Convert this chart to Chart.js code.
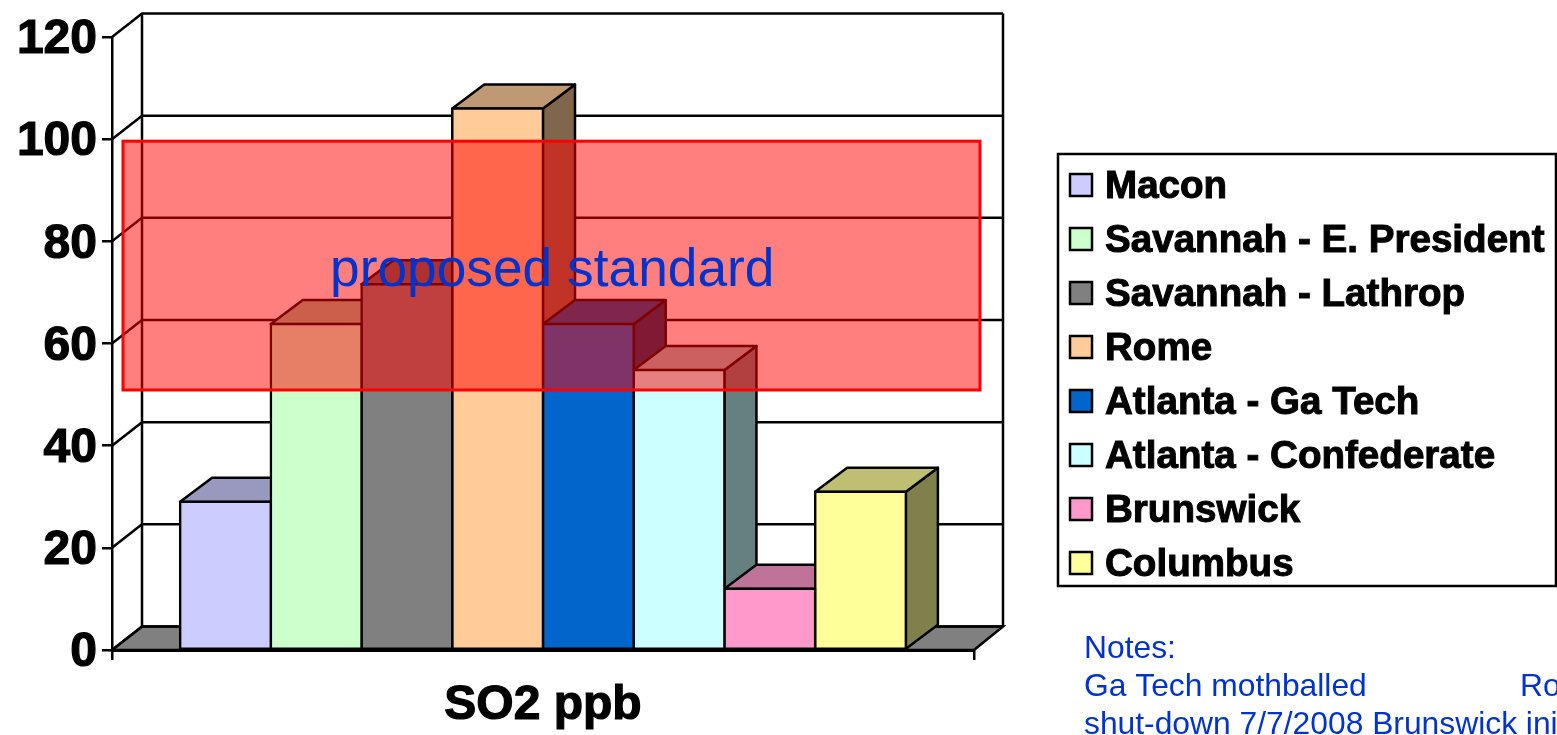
<!DOCTYPE html>
<html>
<head>
<meta charset="utf-8">
<title>SO2 ppb</title>
<style>
  html, body { margin: 0; padding: 0; background: #fff; overflow: hidden; }
  canvas { display: block; }
</style>
<script src="https://cdn.jsdelivr.net/npm/chart.js@4"></script>
</head>
<body>
<canvas id="chartSo2" width="1557" height="735"></canvas>
<script>
const categories = ["SO2 ppb"];
const stations = [
  "Macon",
  "Savannah - E. President",
  "Savannah - Lathrop",
  "Rome",
  "Atlanta - Ga Tech",
  "Atlanta - Confederate",
  "Brunswick",
  "Columbus",
];
const so2Values = [29, 63.8, 71.6, 106, 63.8, 54.8, 12, 31];
const stationColors = ["#CCCCFF", "#CCFFCC", "#808080", "#FFCC99", "#0066CC", "#CCFFFF", "#FF99CC", "#FFFF99"];
const standardBand = [50.9, 99.6];
const standardLabel = "proposed standard";
const notes = ["Notes:", "Ga Tech mothballed", "shut-down 7/7/2008 Brunswick ini"];
const notesClipped = "Ro";

const FONT = '"Liberation Sans", Arial, sans-serif';
const BLUE = "#0033CC";
const LINE = 2.5;

// shade a hex colour, used for the top and side faces of the bars
function shade(hex, f) {
  const n = parseInt(hex.slice(1), 16);
  const r = Math.round(((n >> 16) & 255) * f);
  const g = Math.round(((n >> 8) & 255) * f);
  const b = Math.round((n & 255) * f);
  return `rgb(${r},${g},${b})`;
}

function poly(ctx, pts, fill) {
  ctx.beginPath();
  pts.forEach((p, i) => (i ? ctx.lineTo(p[0], p[1]) : ctx.moveTo(p[0], p[1])));
  ctx.closePath();
  if (fill) {
    ctx.fillStyle = fill;
    ctx.fill();
  }
  ctx.stroke();
}

// back wall, side wall and floor
const wallPlugin = {
  id: "walls",
  beforeDraw(chart) {
    const { ctx, chartArea: a, scales } = chart;
    const dx = 30;
    const dy = 23.5;
    ctx.save();
    ctx.strokeStyle = "#000";
    ctx.lineWidth = LINE;
    poly(ctx, [[a.left, a.bottom], [a.left + dx, a.bottom - dy], [a.right + dx - 1, a.bottom - dy], [a.right, a.bottom]], "#808080");
    scales.y.ticks.forEach((t) => {
      const y = scales.y.getPixelForValue(t.value);
      ctx.beginPath();
      ctx.moveTo(a.left, y);
      ctx.lineTo(a.left + dx, y - dy);
      ctx.lineTo(a.right + dx - 1, y - dy);
      ctx.stroke();
    });
    ctx.beginPath();
    ctx.moveTo(a.left + dx, a.bottom - dy);
    ctx.lineTo(a.left + dx, a.top - dy);
    ctx.moveTo(a.right + dx - 1, a.bottom - dy);
    ctx.lineTo(a.right + dx - 1, a.top - dy);
    ctx.stroke();
    ctx.restore();
  },
};

// top and side faces, left to right so nearer bars cover the earlier ones
const depthPlugin = {
  id: "barDepth",
  beforeDatasetsDraw(chart) {
    const { ctx } = chart;
    const dx = 32;
    const dy = 24;
    ctx.save();
    ctx.strokeStyle = "#000";
    ctx.lineWidth = LINE;
    ctx.lineJoin = "round";
    chart.data.datasets.forEach((ds, i) => {
      const bar = chart.getDatasetMeta(i).data[0];
      const l = bar.x - bar.width / 2;
      const r = bar.x + bar.width / 2;
      poly(ctx, [[r, bar.y], [r + dx, bar.y - dy], [r + dx, bar.base - dy], [r, bar.base]], shade(ds.backgroundColor, 0.5));
      poly(ctx, [[l, bar.y], [l + dx, bar.y - dy], [r + dx, bar.y - dy], [r, bar.y]], shade(ds.backgroundColor, 0.75));
    });
    ctx.restore();
  },
};

// red band with its label, on top of the bars
const bandPlugin = {
  id: "standardBand",
  afterDatasetsDraw(chart) {
    const { ctx, scales } = chart;
    const top = scales.y.getPixelForValue(standardBand[1]);
    const bottom = scales.y.getPixelForValue(standardBand[0]);
    ctx.save();
    ctx.fillStyle = "rgba(255,0,0,0.5)";
    ctx.strokeStyle = "#FF0000";
    ctx.lineWidth = 3;
    ctx.fillRect(123, top, 857, bottom - top);
    ctx.strokeRect(123, top, 857, bottom - top);
    ctx.fillStyle = BLUE;
    ctx.font = `53.3px ${FONT}`;
    ctx.textAlign = "left";
    ctx.textBaseline = "alphabetic";
    ctx.fillText(standardLabel, 330, 286);
    ctx.restore();
  },
};

const legendPlugin = {
  id: "sideLegend",
  afterDraw(chart) {
    const { ctx } = chart;
    ctx.save();
    ctx.fillStyle = "#fff";
    ctx.strokeStyle = "#000";
    ctx.lineWidth = LINE;
    ctx.fillRect(1058, 154, 498, 432);
    ctx.strokeRect(1058, 154, 498, 432);
    ctx.textBaseline = "alphabetic";
    chart.data.datasets.forEach((ds, i) => {
      const y = 185 + i * 54;
      ctx.fillStyle = ds.backgroundColor;
      ctx.lineWidth = LINE;
      ctx.fillRect(1070, y - 11, 22, 22);
      ctx.strokeRect(1070, y - 11, 22, 22);
      ctx.fillStyle = "#000";
      ctx.font = `bold 38.6px ${FONT}`;
      ctx.lineWidth = 1;
      ctx.fillText(ds.label, 1105, y + 13);
      ctx.strokeText(ds.label, 1105, y + 13);
    });

    ctx.fillStyle = BLUE;
    ctx.font = `31.8px ${FONT}`;
    notes.forEach((line, i) => ctx.fillText(line, 1084, 658 + i * 38));
    ctx.fillText(notesClipped, 1520, 696);
    ctx.restore();
  },
};

new Chart(document.getElementById("chartSo2"), {
  type: "bar",
  data: {
    labels: categories,
    datasets: stations.map((name, i) => ({
      label: name,
      data: [so2Values[i]],
      backgroundColor: stationColors[i],
      borderColor: "#000",
      borderWidth: LINE,
      borderSkipped: false,
      inflateAmount: LINE / 2,
    })),
  },
  options: {
    responsive: false,
    animation: false,
    devicePixelRatio: 1,
    categoryPercentage: 0.842,
    barPercentage: 1,
    layout: { padding: { top: 37, right: 583, bottom: 0, left: 0 } },
    plugins: {
      legend: { display: false },
      title: { display: false },
      tooltip: { enabled: false },
    },
    scales: {
      x: {
        afterFit(scale) {
          scale.height = 85;
        },
        border: { color: "#000", width: 3 },
        grid: { offset: true, drawOnChartArea: false, color: "#000", lineWidth: LINE, tickLength: 10 },
        ticks: {
          color: "#000",
          padding: 17,
          textStrokeColor: "#000",
          textStrokeWidth: 1.2,
          font: { family: FONT, size: 48, weight: "bold" },
        },
      },
      y: {
        min: 0,
        max: 120,
        afterFit(scale) {
          scale.width = 112;
        },
        border: { color: "#000", width: LINE },
        grid: { drawOnChartArea: false, color: "#000", lineWidth: LINE, tickLength: 10 },
        ticks: {
          stepSize: 20,
          color: "#000",
          padding: 5,
          labelOffset: 3,
          textStrokeColor: "#000",
          textStrokeWidth: 1.2,
          font: { family: FONT, size: 48, weight: "bold" },
        },
      },
    },
  },
  plugins: [wallPlugin, depthPlugin, bandPlugin, legendPlugin],
});
</script>
</body>
</html>
